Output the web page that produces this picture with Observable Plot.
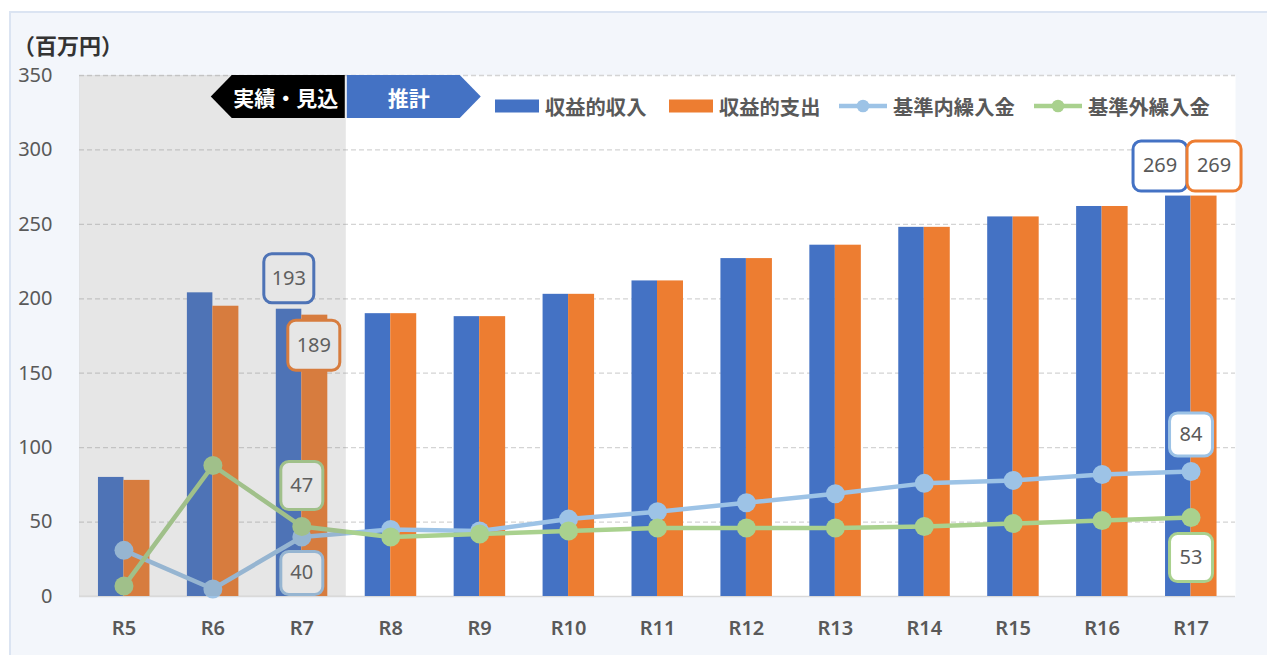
<!DOCTYPE html>
<html><head><meta charset="utf-8">
<script src="https://cdn.jsdelivr.net/npm/d3@7"></script>
<script src="https://cdn.jsdelivr.net/npm/@observablehq/plot@0.6"></script>
<style>
html,body{margin:0;padding:0;background:#fff;overflow:hidden;width:1267px;height:655px;}
#frame{position:absolute;left:9px;top:11px;width:1280px;height:670px;background:#f3f6fb;border:2px solid #dbe4f2;box-sizing:border-box;}
#title{position:absolute;left:13px;top:33px;font-family:"Noto Sans CJK JP",sans-serif;font-weight:bold;font-size:22px;line-height:22px;color:#333;}
#chart{position:absolute;left:0;top:0;width:1267px;height:655px;}
</style></head><body>
<div id="frame"></div>
<div id="chart"></div>
<div id="title">（百万円）</div>
<script>
// ---- data ----
const categories = ["R5","R6","R7","R8","R9","R10","R11","R12","R13","R14","R15","R16","R17"];
const revenue = [80, 204, 193, 190, 188, 203, 212, 227, 236, 248, 255, 262, 269];   // 収益的収入
const expense = [78, 195, 189, 190, 188, 203, 212, 227, 236, 248, 255, 262, 269];   // 収益的支出
const innerTransfer = [31, 5, 40, 45, 44, 52, 57, 63, 69, 76, 78, 82, 84];           // 基準内繰入金
const outerTransfer = [7, 88, 47, 40, 42, 44, 46, 46, 46, 47, 49, 51, 53];           // 基準外繰入金
const yTicks = [0, 50, 100, 150, 200, 250, 300, 350];
const seriesNames = ["収益的収入", "収益的支出", "基準内繰入金", "基準外繰入金"];
const actualCats = ["R5","R6","R7"];
const labelPoints = [
  {c:"R7", s:"rev", v:193}, {c:"R7", s:"exp", v:189}, {c:"R7", s:"out", v:47}, {c:"R7", s:"inn", v:40},
  {c:"R17", s:"rev", v:269}, {c:"R17", s:"exp", v:269}, {c:"R17", s:"inn", v:84}, {c:"R17", s:"out", v:53}
];

// ---- style ----
const W = 1267, H = 655, ML = 79, MR = 32, MT = 75, MB = 59;
const bw = (W - ML - MR) / categories.length;
const COL = {rev:"#4472c4", exp:"#ed7d31", inn:"#9dc3e6", out:"#a9d18e"};
const FONT = '"Noto Sans","Noto Sans CJK JP",sans-serif';
const TXT = "#595959";
const labelStyle = {
  "R7-rev":  {dx:-13, dy:-31, w:50, h:49},
  "R7-exp":  {dx: 12, dy: 30, w:52, h:50},
  "R7-out":  {dx:  0, dy:-41, w:42, h:48},
  "R7-inn":  {dx:  0, dy: 36, w:42, h:43},
  "R17-rev": {dx:-31, dy:-30, w:54, h:50},
  "R17-exp": {dx: 23, dy:-30, w:54, h:50},
  "R17-inn": {dx:  0, dy:-37, w:43, h:43},
  "R17-out": {dx:  0, dy: 40, w:43, h:48}
};

const rows = categories.map((c, i) => ({c, rev: revenue[i], exp: expense[i], inn: innerTransfer[i], out: outerTransfer[i]}));

function roundBox(w, h, r) {
  return {draw(ctx) {
    const x0 = -w/2, y0 = -h/2, x1 = w/2, y1 = h/2;
    ctx.moveTo(x0 + r, y0); ctx.lineTo(x1 - r, y0); ctx.arcTo(x1, y0, x1, y0 + r, r);
    ctx.lineTo(x1, y1 - r); ctx.arcTo(x1, y1, x1 - r, y1, r);
    ctx.lineTo(x0 + r, y1); ctx.arcTo(x0, y1, x0, y1 - r, r);
    ctx.lineTo(x0, y0 + r); ctx.arcTo(x0, y0, x0 + r, y0, r); ctx.closePath();
  }};
}

const labelMarks = labelPoints.flatMap(p => {
  const st = labelStyle[p.c + "-" + p.s];
  return [
    Plot.dot([p], {x:"c", y:"v", dx:st.dx, dy:st.dy, symbol: roundBox(st.w, st.h, 8), r: 10,
      fill:"white", stroke: COL[p.s], strokeWidth: 3}),
    Plot.text([p], {x:"c", y:"v", dx:st.dx, dy:st.dy, text: d => String(d.v), fontSize: 20,
      fill: TXT, fontFamily: FONT})
  ];
});

const chart = Plot.plot({
  width: W, height: H,
  marginLeft: ML, marginRight: MR, marginTop: MT, marginBottom: MB,
  style: {background: "transparent", fontFamily: FONT, overflow: "visible"},
  x: {type: "band", domain: categories, padding: 0, round: false},
  y: {domain: [0, 350]},
  marks: [
    Plot.frame({fill: "white", stroke: null}),
    Plot.ruleY(yTicks.filter(d => d > 0), {stroke: "#d4d4d4", strokeWidth: 1.3, strokeDasharray: "5,3"}),
    Plot.ruleY([0], {stroke: "#d9d9d9", strokeWidth: 1.5}),
    Plot.barY(rows, {x: "c", y: "rev", fill: COL.rev, insetLeft: bw/2 - 25.5, insetRight: bw/2}),
    Plot.barY(rows, {x: "c", y: "exp", fill: COL.exp, insetLeft: bw/2, insetRight: bw/2 - 26}),
    Plot.line(rows, {x: "c", y: "inn", stroke: COL.inn, strokeWidth: 4.5}),
    Plot.dot(rows, {x: "c", y: "inn", fill: COL.inn, r: 9.5}),
    Plot.line(rows, {x: "c", y: "out", stroke: COL.out, strokeWidth: 4.5}),
    Plot.dot(rows, {x: "c", y: "out", fill: COL.out, r: 9.5}),
    ...labelMarks,
    Plot.barY([actualCats[1]], {x: d => d, y1: 0, y2: 350, fill: "rgb(120,120,120)", fillOpacity: 0.19,
      insetLeft: -bw, insetRight: -bw}),
    Plot.axisY({ticks: yTicks, tickSize: 0, tickPadding: 27, fontSize: 20, fill: TXT, label: null, tickFormat: d => String(d)}),
    Plot.axisX({tickSize: 0, tickPadding: 24, fontSize: 20, fill: TXT, fontWeight: 600, label: null})
  ]
});

document.getElementById("chart").appendChild(chart);

// ---- period arrows & legend ----
const svg = d3.select(chart);
const xs = chart.scale("x");
const bx = xs.apply(categories[3]);  // start of projection period
const yTop = MT, yBot = MT + 43, yMid = (yTop + yBot) / 2;
const g = svg.append("g");
g.append("polygon").attr("points", [[bx-135, yMid], [bx-114, yTop], [bx-1, yTop], [bx-1, yBot], [bx-114, yBot]].join(" "))
  .attr("fill", "#000");
g.append("text").attr("x", bx - 60).attr("y", yMid).attr("text-anchor", "middle").attr("dominant-baseline", "central")
  .attr("fill", "#fff").attr("font-size", 21).attr("font-weight", "bold").attr("font-family", '"Noto Sans CJK JP",sans-serif')
  .text("実績・見込");
g.append("polygon").attr("points", [[bx+1, yTop], [bx+114, yTop], [bx+135, yMid], [bx+114, yBot], [bx+1, yBot]].join(" "))
  .attr("fill", COL.rev);
g.append("text").attr("x", bx + 63).attr("y", yMid).attr("text-anchor", "middle").attr("dominant-baseline", "central")
  .attr("fill", "#fff").attr("font-size", 21).attr("font-weight", "bold").attr("font-family", '"Noto Sans CJK JP",sans-serif')
  .text("推計");

const ly = 106;
const leg = svg.append("g").attr("font-family", '"Noto Sans CJK JP",sans-serif').attr("font-size", 20.3)
  .attr("font-weight", "bold").attr("fill", TXT).attr("text-anchor", "start");
const items = [
  {x: 495, kind: "rect", col: COL.rev, name: seriesNames[0]},
  {x: 669, kind: "rect", col: COL.exp, name: seriesNames[1]},
  {x: 839, kind: "line", col: COL.inn, name: seriesNames[2]},
  {x: 1034, kind: "line", col: COL.out, name: seriesNames[3]}
];
items.forEach(it => {
  if (it.kind === "rect") {
    leg.append("rect").attr("x", it.x).attr("y", ly - 6.5).attr("width", 44).attr("height", 13).attr("fill", it.col);
  } else {
    leg.append("line").attr("x1", it.x).attr("x2", it.x + 48).attr("y1", ly).attr("y2", ly)
      .attr("stroke", it.col).attr("stroke-width", 4.5);
    leg.append("circle").attr("cx", it.x + 24).attr("cy", ly).attr("r", 6.3).attr("fill", it.col);
  }
  leg.append("text").attr("x", it.x + (it.kind === "rect" ? 50 : 54)).attr("y", ly).attr("dominant-baseline", "central")
    .attr("text-anchor", "start").text(it.name);
});
</script>
</body></html>
